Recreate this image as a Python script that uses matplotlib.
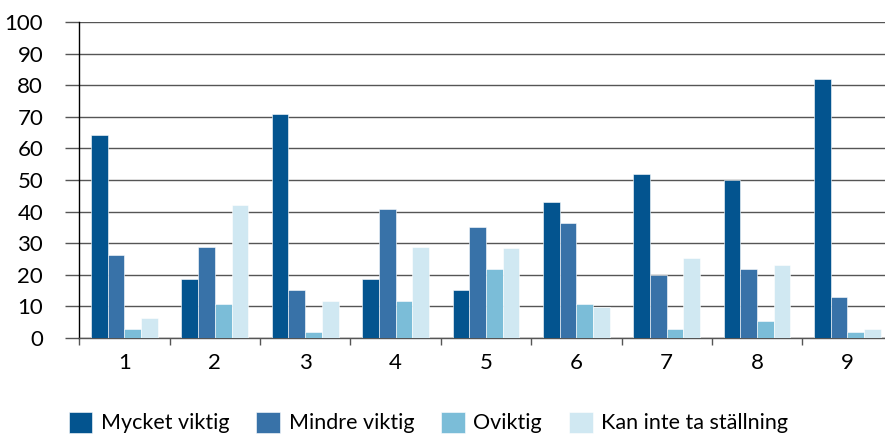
import numpy as np
import matplotlib.pyplot as plt
from matplotlib.ticker import FixedLocator

plt.rcParams['font.family'] = ['Lato', 'DejaVu Sans']

# data
categories = ["1", "2", "3", "4", "5", "6", "7", "8", "9"]
series_names = ["Mycket viktig", "Mindre viktig", "Oviktig", "Kan inte ta ställning"]
mycket_viktig = [64.3, 18.6, 70.9, 18.6, 15.2, 43.0, 52.0, 49.9, 82.1]
mindre_viktig = [26.4, 28.7, 15.2, 40.9, 35.2, 36.3, 19.8, 21.9, 12.9]
oviktig = [3.0, 10.8, 1.9, 11.8, 21.9, 10.8, 3.0, 5.3, 1.9]
kan_inte = [6.3, 42.0, 11.8, 28.7, 28.5, 9.7, 25.3, 23.0, 3.0]
colors = ["#03548F", "#3872A8", "#7BBDD8", "#D0E8F2"]

series = [mycket_viktig, mindre_viktig, oviktig, kan_inte]

fig = plt.figure(figsize=(8.85, 4.36), dpi=100)
ax = fig.add_axes([79.3 / 885, 98 / 436, (892.6 - 79.3) / 885, 316 / 436])

x = np.arange(len(categories))
w = 0.185
for i, (vals, name, c) in enumerate(zip(series, series_names, colors)):
    ax.bar(x + (i - 1.5) * w, vals, width=w, color=c, label=name,
           edgecolor="white", linewidth=0.4, zorder=3)

ax.set_xlim(-0.5, len(categories) - 0.5)
ax.set_ylim(0, 100)
ax.set_yticks(np.arange(0, 101, 10))
ax.yaxis.grid(True, color="#555555", linewidth=1.0, zorder=0)
ax.tick_params(axis="y", length=10, width=1.0, color="#555555",
               labelsize=16, pad=16)

ax.set_xticks(x)
ax.set_xticklabels(categories)
ax.tick_params(axis="x", which="major", length=0, labelsize=16, pad=11)
ax.xaxis.set_minor_locator(FixedLocator(np.arange(-0.5, len(categories), 1.0)))
ax.tick_params(axis="x", which="minor", length=5, width=1.0, color="#555555")

for s in ["top", "right"]:
    ax.spines[s].set_visible(False)
ax.spines["left"].set_color("black")
ax.spines["left"].set_linewidth(1.0)
ax.spines["bottom"].set_color("#555555")
ax.spines["bottom"].set_linewidth(1.0)

fig.legend(loc="lower left", bbox_to_anchor=(0.068, -0.014), ncol=4,
           frameon=False, fontsize=15.5, handlelength=1.1, handleheight=1.1,
           handletextpad=0.4, columnspacing=1.25, borderaxespad=0)

fig.savefig("out.png", dpi=100)
